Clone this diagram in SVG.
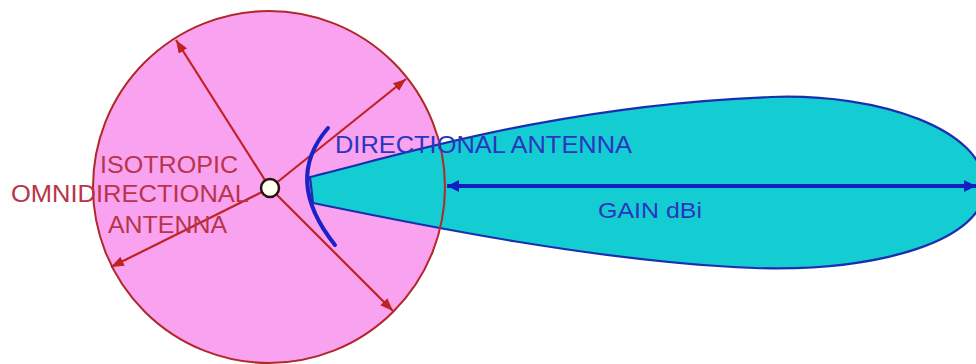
<svg xmlns="http://www.w3.org/2000/svg" width="976" height="364" viewBox="0 0 976 364">
  <style>
    .red-line { stroke: #c02222; stroke-width: 2.2; fill: none; }
    .red-text { fill: #b8344a; font-family: "Liberation Sans", Arial, sans-serif; font-size: 24px; }
    .blue-text { fill: #2b35c0; font-family: "Liberation Sans", Arial, sans-serif; font-size: 24px; }
  </style>
  <defs>
    <marker id="redArrow" markerUnits="userSpaceOnUse" markerWidth="13" markerHeight="10" refX="13" refY="5" orient="auto">
      <path d="M0,0 L13,5 L0,10 z" fill="#c02222"/>
    </marker>
    <marker id="blueArrow" markerUnits="userSpaceOnUse" markerWidth="12" markerHeight="12" refX="12" refY="6" orient="auto-start-reverse">
      <path d="M0,0 L12,6 L0,12 z" fill="#1020c0"/>
    </marker>
  </defs>
  <rect width="976" height="364" fill="#ffffff"/>

  <g id="isotropic-pattern">
    <circle cx="269" cy="187" r="176" fill="#f9a3f0"/>
  </g>

  <g id="directional-lobe">
    <path d="M310,177 C400,155 560,105 771,97 C880,93 985,130 985,187 C985,240 880,272 755,268 C600,262 420,225 313,203 Z" fill="#14cdd2" stroke="#1a2fb0" stroke-width="2.2"/>
  </g>

  <g id="isotropic-outline">
    <circle cx="269" cy="187" r="176" fill="none" stroke="#b02828" stroke-width="2"/>
  </g>

  <g id="connectors">
    <line class="red-line" x1="270" y1="188" x2="176" y2="40" marker-end="url(#redArrow)"/>
    <line class="red-line" x1="270" y1="188" x2="406" y2="79" marker-end="url(#redArrow)"/>
    <line class="red-line" x1="270" y1="188" x2="111" y2="267" marker-end="url(#redArrow)"/>
    <line class="red-line" x1="270" y1="188" x2="393" y2="311" marker-end="url(#redArrow)"/>
    <line x1="447" y1="186" x2="976" y2="186" stroke="#1020c0" stroke-width="4" marker-start="url(#blueArrow)" marker-end="url(#blueArrow)"/>
  </g>

  <g id="dish">
    <path d="M328,128 Q283,180 335,245" fill="none" stroke="#1c22c4" stroke-width="4" stroke-linecap="round"/>
  </g>

  <g id="antenna-point">
    <circle cx="270" cy="188" r="9" fill="#fffff2" stroke="#2a1010" stroke-width="2.5"/>
  </g>

  <g id="labels">
    <text class="red-text" x="100" y="173" textLength="138" lengthAdjust="spacingAndGlyphs">ISOTROPIC</text>
    <text class="red-text" x="11" y="202" textLength="238" lengthAdjust="spacingAndGlyphs">OMNIDIRECTIONAL</text>
    <text class="red-text" x="108" y="233" textLength="119" lengthAdjust="spacingAndGlyphs">ANTENNA</text>
    <text class="blue-text" x="335" y="153" textLength="297" lengthAdjust="spacingAndGlyphs">DIRECTIONAL ANTENNA</text>
    <text class="blue-text" x="598" y="218" font-size="22" style="font-size:22px" textLength="104" lengthAdjust="spacingAndGlyphs">GAIN dBi</text>
  </g>
</svg>
